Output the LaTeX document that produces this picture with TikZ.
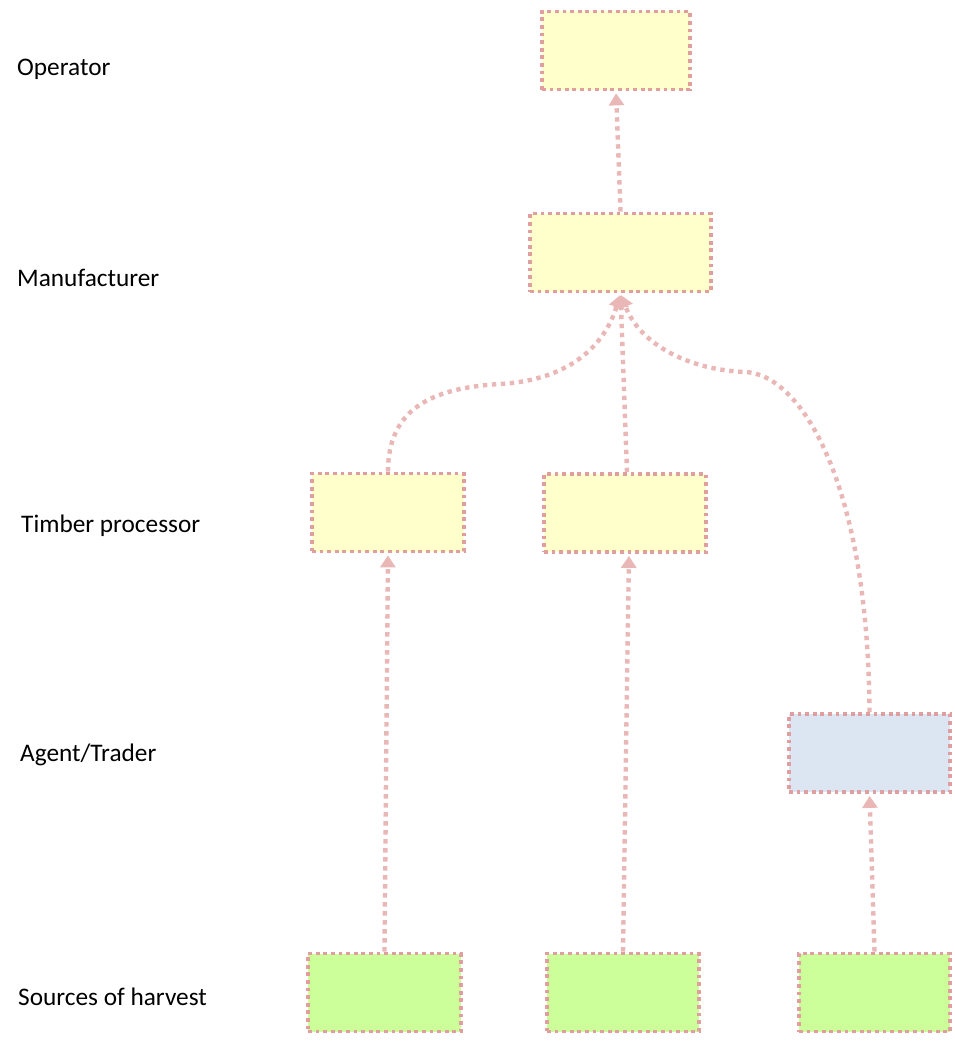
\documentclass[tikz,border=0pt]{standalone}
\usepackage{fontspec}
\setmainfont{Carlito}
\usetikzlibrary{arrows.meta}

\definecolor{linkpink}{RGB}{233,183,182}
\definecolor{edgepink}{RGB}{224,158,158}
\definecolor{tieryellow}{RGB}{255,255,204}
\definecolor{tiergreen}{RGB}{204,255,153}
\definecolor{tierblue}{RGB}{220,230,242}

\begin{document}
\begin{tikzpicture}[x=1pt,y=-1pt,
  box/.style={draw=edgepink, line width=3.8pt, dash pattern=on 3.8pt off 3.8pt,
    minimum width=#1, minimum height=78pt, inner sep=0pt},
  level/.style={anchor=base west, inner sep=0pt, font=\fontsize{25.3}{30}\selectfont},
  link/.style={draw=linkpink, line width=4.4pt, dash pattern=on 4.4pt off 4.6pt,
    -{Triangle[width=15pt,length=12pt]}, shorten >=2pt}]
\useasboundingbox (0,0) rectangle (954,1041);

% row names
\node[level] (opL) at (17,75) {Operator};
\node[level] (maL) at (17,286) {Manufacturer};
\node[level] (tpL) at (21,532) {Timber processor};
\node[level] (agL) at (20,761) {Agent/Trader};
\node[level] (soL) at (18,1005) {Sources of harvest};

% boxes
\node[box=148pt, fill=tieryellow] (O) at (616,50.5) {};
\node[box=181pt, fill=tieryellow] (M) at (620.5,252.5) {};
\node[box=152pt, fill=tieryellow] (T1) at (388,512.5) {};
\node[box=162pt, fill=tieryellow] (T2) at (625,513) {};
\node[box=161pt, fill=tierblue] (A) at (869.5,753) {};
\node[box=153pt, fill=tiergreen] (S1) at (384.5,992.5) {};
\node[box=152pt, fill=tiergreen] (S2) at (623,992.5) {};
\node[box=151pt, fill=tiergreen] (S3) at (874.5,992.5) {};

% supply links
\path[link] (S1.north) -- (T1.south);
\path[link] (S2.north) -- ([xshift=4pt]T2.south);
\path[link] (S3.north) -- (A.south);
\path[link] ([xshift=2pt]T2.north) -- (M.south);
\path[link] (M.north) -- (O.south);
\path[link] (T1.north) .. controls (388,410) and (430,388) .. (500,384)
  .. controls (570,380) and (605,345) .. (M.south);
\path[link] (A.north) .. controls (868,480) and (800,374) .. (745,372)
  .. controls (690,370) and (640,345) .. (M.south);
\end{tikzpicture}
\end{document}
